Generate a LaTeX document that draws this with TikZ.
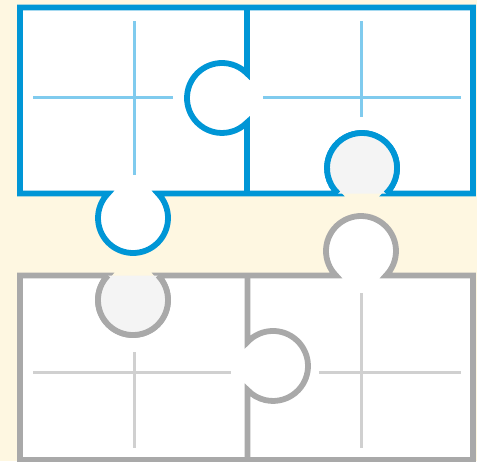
\documentclass[tikz,border=0pt]{standalone}
\usepackage{tikz}
\usetikzlibrary{positioning}
\usepackage{xcolor}
\definecolor{cream}{HTML}{FEF7E1}
\definecolor{puzzleblue}{HTML}{0096D6}
\definecolor{crossblue}{HTML}{80CBEE}
\definecolor{puzzlegray}{HTML}{A9A9A9}
\definecolor{crossgray}{HTML}{D0D0D0}
\definecolor{holefill}{HTML}{F4F4F4}

\begin{document}
\begin{tikzpicture}[
    x=1pt, y=1pt,
    blueedge/.style={draw=puzzleblue, line width=5.8pt, fill=white},
    grayedge/.style={draw=puzzlegray, line width=5.8pt, fill=white},
    bluecross/.style={draw=crossblue, line width=3pt},
    graycross/.style={draw=crossgray, line width=3pt}
]
    % 0. Sfondo e margini
    \useasboundingbox (0,0) rectangle (487,-461);
    \fill[white] (0,0) rectangle (487,-461);
    \fill[cream] (0,0) rectangle (477,-461);

    % =========================================================================
    % COPPIA SUPERIORE (blu)
    % =========================================================================
    % 1. Contorno: incavo in basso a destra, linguetta in basso a sinistra
    \path[blueedge] (20,-7.5) -- (473,-7.5) -- (473,-193.5) -- (386,-193.5)
        arc[start angle=-46.77, end angle=226.77, radius=35]
        -- (158,-193.5)
        arc[start angle=44.43, end angle=-224.43, radius=35]
        -- (20,-193.5) -- cycle;

    % 2. Fondo dell'incavo
    \fill[holefill] (386,-193.5) arc[start angle=-46.77, end angle=226.77, radius=35] -- cycle;
    \draw[blueedge, fill=none] (386,-193.5) arc[start angle=-46.77, end angle=226.77, radius=35];

    % 3. Bordo centrale con incavo a sinistra
    \draw[blueedge, fill=none] (247,-7.5) -- (247,-73.5)
        arc[start angle=44.42, end angle=315.58, radius=35]
        -- (247,-193.5);

    % 4. Croci
    \draw[bluecross] (33,-97) -- (173,-97);
    \draw[bluecross] (134,-21) -- (134,-175);
    \draw[bluecross] (263,-97) -- (461,-97);
    \draw[bluecross] (361,-21) -- (361,-117);

    % =========================================================================
    % COPPIA INFERIORE (grigia)
    % =========================================================================
    % 5. Contorno: incavo in alto a sinistra, linguetta in alto a destra
    \path[grayedge] (20,-275.5) -- (108,-275.5)
        arc[start angle=135.57, end angle=404.43, radius=35]
        -- (336,-275.5)
        arc[start angle=224.43, end angle=-44.43, radius=35]
        -- (473,-275.5) -- (473,-460) -- (20,-460) -- cycle;

    % 6. Fondo dell'incavo
    \fill[holefill] (108,-275.5) arc[start angle=135.57, end angle=404.43, radius=35] -- cycle;
    \draw[grayedge, fill=none] (108,-275.5) arc[start angle=135.57, end angle=404.43, radius=35];

    % 7. Bordo centrale con linguetta a destra
    \draw[grayedge, fill=none] (247.5,-275.5) -- (247.5,-342)
        arc[start angle=136.77, end angle=-136.77, radius=35]
        -- (247.5,-460);

    % 8. Croci
    \draw[graycross] (33,-372) -- (231,-372);
    \draw[graycross] (134,-352) -- (134,-448);
    \draw[graycross] (319,-372) -- (461,-372);
    \draw[graycross] (361,-293) -- (361,-448);

\end{tikzpicture}
\end{document}
